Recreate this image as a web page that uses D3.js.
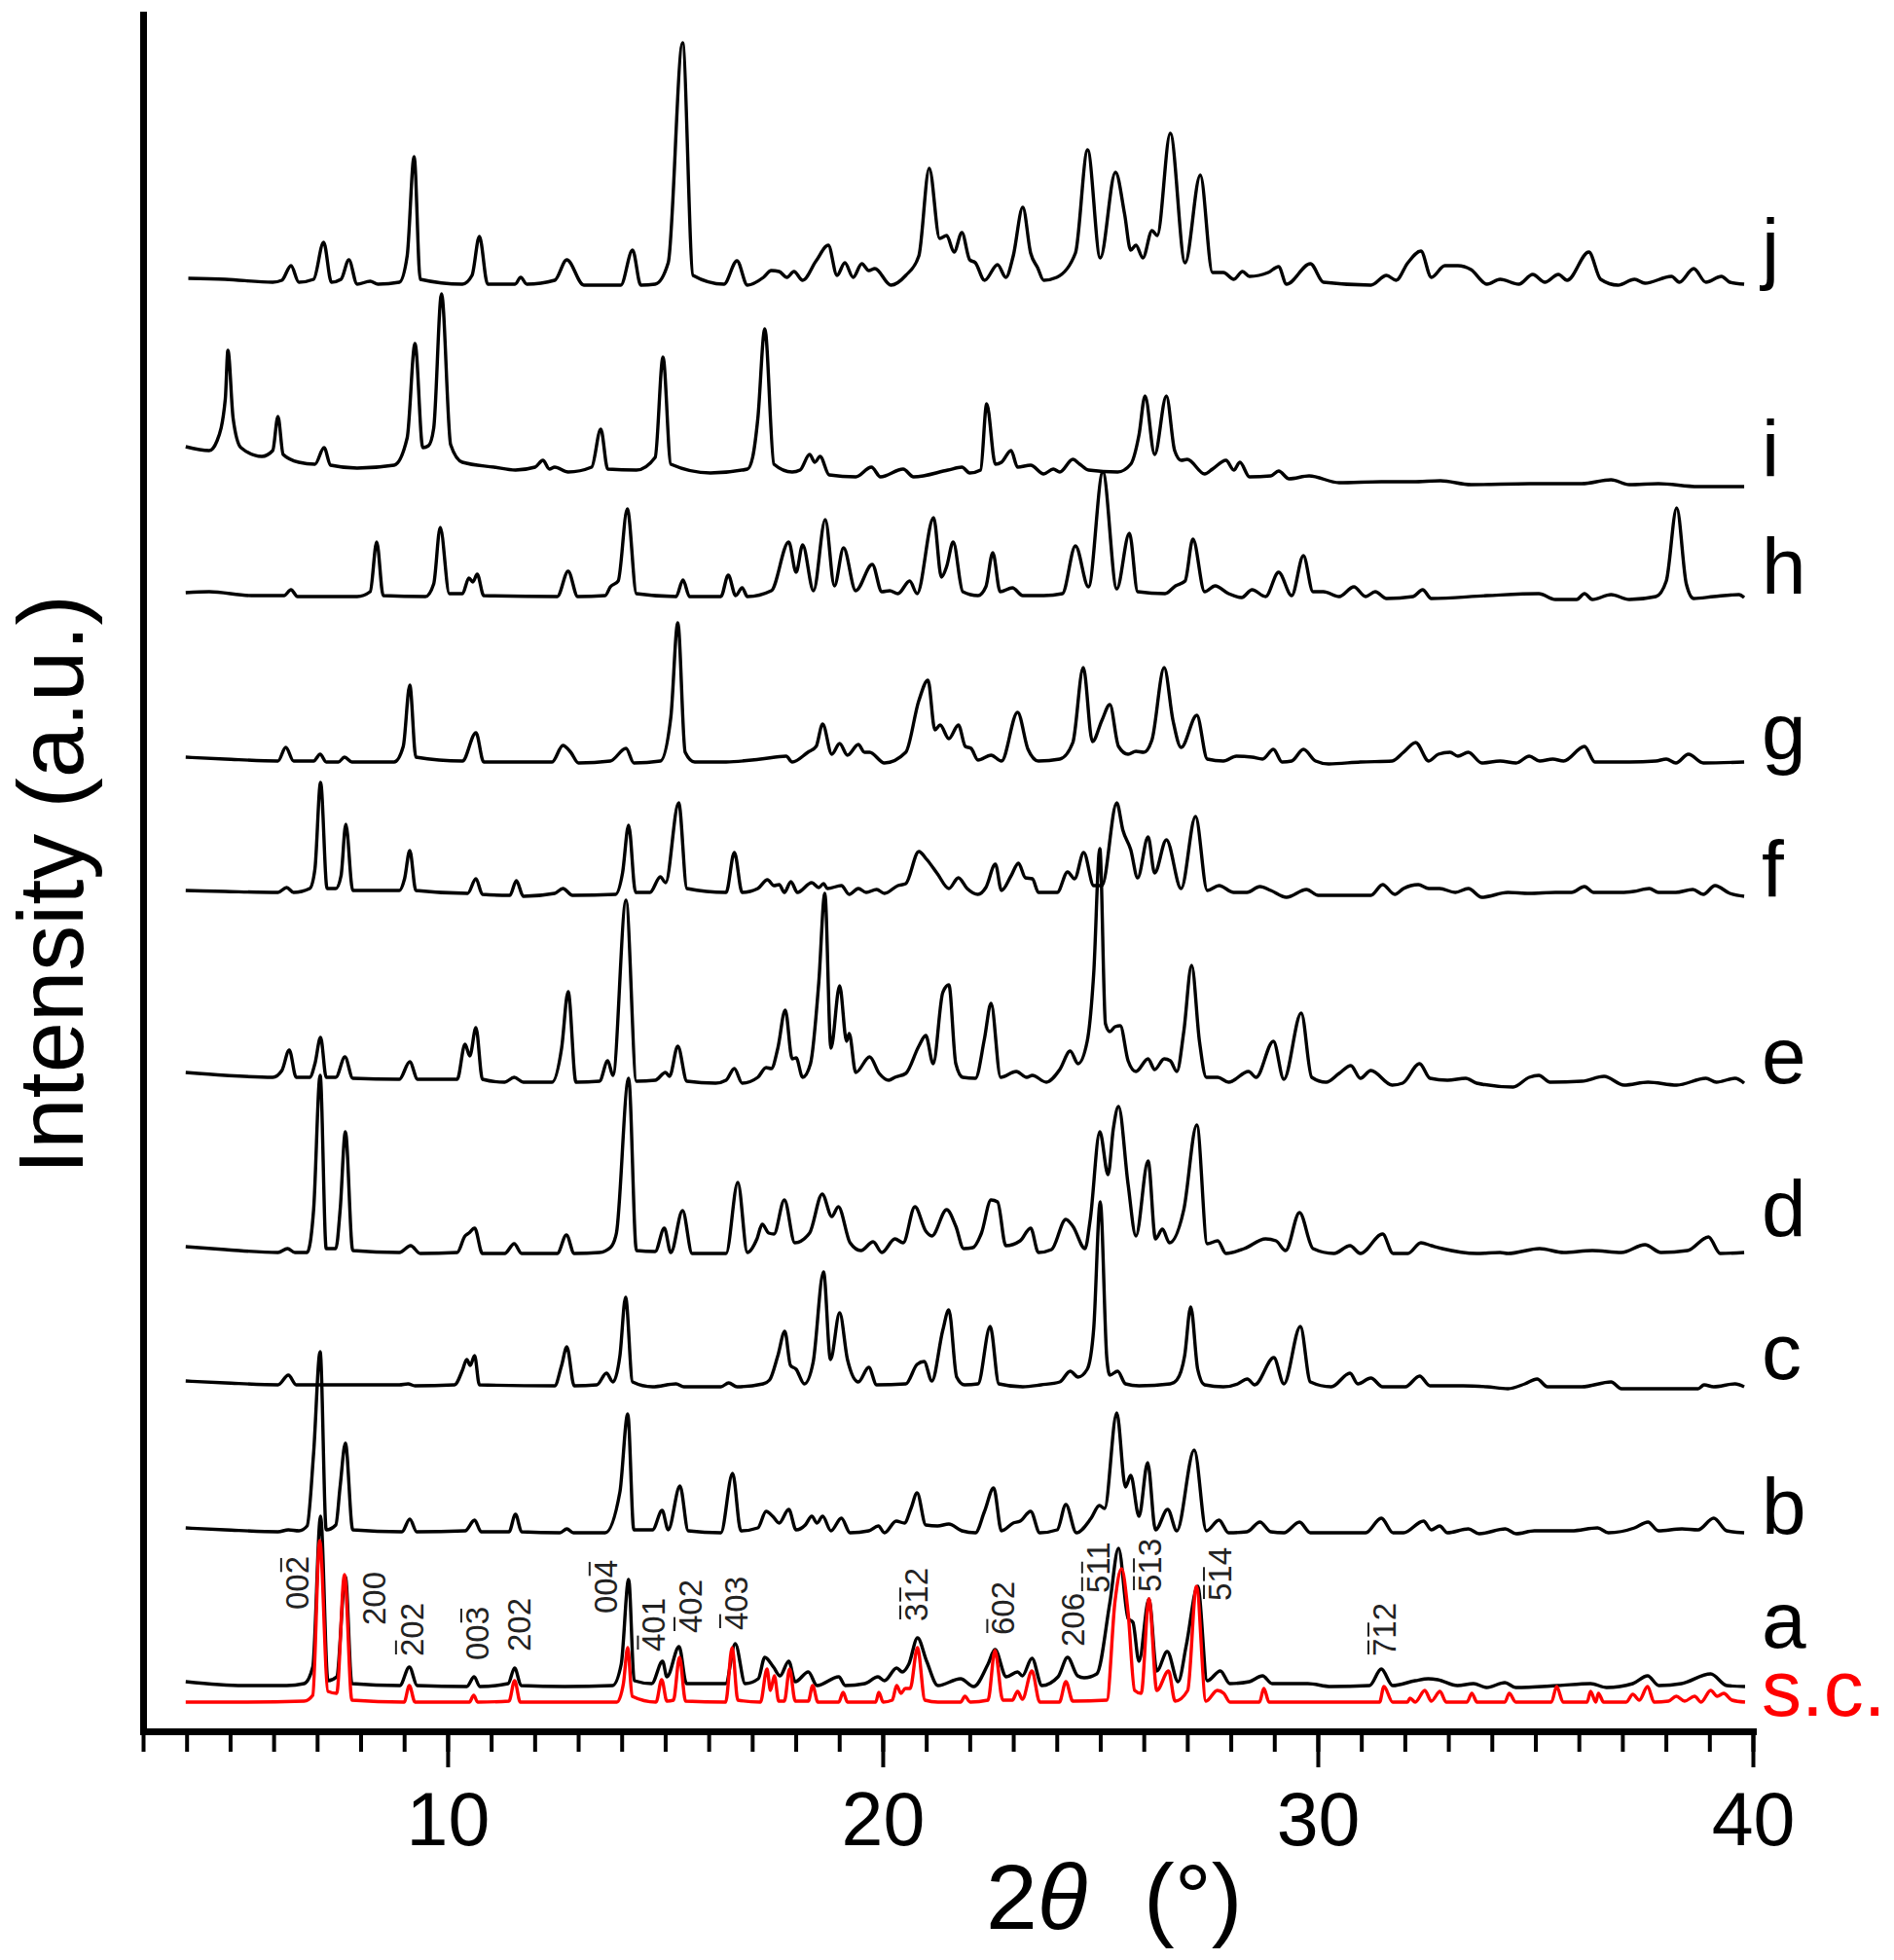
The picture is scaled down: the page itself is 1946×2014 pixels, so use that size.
<!DOCTYPE html>
<html>
<head>
<meta charset="utf-8">
<script src="https://cdn.jsdelivr.net/npm/d3@7"></script>
<style>
  body { margin: 0; background: #fff; }
  svg text { font-family: "Liberation Sans", Arial, sans-serif; }
</style>
</head>
<body>
<svg id="canvas"></svg>
<script>
// Set up SVG dimensions
const width = 1946;
const height = 2014;

// XRD patterns: [2theta, intensity above the pattern's own baseline]
const patternJ = [[4.04,6],[4.89,5],[5.98,2],[6.19,4],[6.40,19],[6.58,2],[6.92,5],[7.15,43],[7.33,2],[7.55,5],[7.73,25],[7.92,0],[8.22,3],[8.40,0],[8.89,2],[9.07,29],[9.23,131],[9.37,5],[10.34,0],[10.56,9],[10.73,49],[10.92,0],[11.55,0],[11.68,7],[11.82,0],[12.46,4],[12.74,25],[13.13,-1],[13.98,-1],[14.25,35],[14.44,-1],[14.77,0],[15.07,22],[15.40,248],[15.64,9],[16.35,0],[16.65,24],[16.89,-1],[17.26,7],[17.44,14],[17.62,13],[17.80,7],[17.96,13],[18.16,4],[18.47,24],[18.75,40],[18.95,9],[19.13,22],[19.32,7],[19.52,21],[19.68,14],[19.82,16],[20.19,-1],[20.53,9],[20.83,29],[21.07,119],[21.31,47],[21.47,50],[21.64,33],[21.82,53],[22.0,25],[22.13,22],[22.34,4],[22.64,20],[22.83,7],[23.0,29],[23.22,79],[23.40,32],[23.56,17],[23.70,4],[24.0,7],[24.43,32],[24.71,138],[25.0,27],[25.35,115],[25.56,72],[25.70,35],[25.82,40],[25.98,27],[26.19,55],[26.31,50],[26.61,155],[26.95,22],[27.30,112],[27.58,12],[27.83,12],[28.07,5],[28.27,13],[28.43,8],[28.86,12],[29.10,18],[29.28,0],[29.83,21],[30.13,2],[31.22,-1],[31.58,9],[31.80,4],[32.07,22],[32.37,34],[32.61,7],[32.92,19],[33.22,19],[33.52,15],[33.89,0],[34.19,5],[34.62,0],[34.94,10],[35.22,2],[35.53,10],[35.73,4],[36.23,33],[36.50,5],[36.90,-1],[37.28,5],[37.52,1],[38.13,8],[38.31,2],[38.64,16],[38.92,2],[39.28,8],[39.47,2],[39.80,0]];

const patternI = [[3.98,41],[4.52,37],[4.70,47],[4.89,90],[4.95,140],[5.07,70],[5.25,40],[5.73,31],[5.98,37],[6.10,72],[6.22,33],[6.58,25],[6.95,23],[7.16,40],[7.31,22],[7.92,19],[8.77,22],[9.07,50],[9.25,147],[9.43,40],[9.56,42],[9.68,60],[9.86,198],[10.07,43],[10.34,25],[11.07,20],[11.56,17],[12.01,20],[12.19,27],[12.34,18],[12.46,20],[12.77,15],[13.31,20],[13.52,59],[13.68,18],[14.34,17],[14.77,30],[14.95,133],[15.13,23],[16.04,14],[16.89,18],[17.01,30],[17.13,70],[17.29,162],[17.50,23],[17.92,15],[18.10,17],[18.32,33],[18.44,25],[18.56,31],[18.77,12],[19.38,10],[19.74,20],[19.95,10],[20.47,18],[20.71,10],[21.50,17],[21.82,20],[22.0,14],[22.25,17],[22.39,85],[22.59,23],[22.73,25],[22.95,37],[23.10,20],[23.40,22],[23.70,13],[23.92,18],[24.07,15],[24.37,28],[24.53,23],[24.73,17],[25.40,15],[25.70,23],[25.89,53],[26.03,93],[26.25,33],[26.52,93],[26.71,37],[26.86,27],[27.0,28],[27.40,13],[27.58,18],[27.89,27],[28.07,17],[28.21,25],[28.43,10],[28.92,11],[29.10,16],[29.34,8],[29.80,11],[30.49,4],[31.46,5],[32.19,5],[32.82,6],[33.52,2],[34.86,3],[36.07,3],[36.74,7],[37.16,2],[37.83,3],[38.74,0],[39.80,0]];

const patternH = [[3.98,4],[4.52,5],[5.49,1],[6.24,1],[6.40,7],[6.55,0],[7.92,0],[8.22,5],[8.37,56],[8.52,1],[9.49,0],[9.68,13],[9.83,71],[10.04,3],[10.34,3],[10.49,19],[10.58,15],[10.68,23],[10.83,1],[12.52,0],[12.77,26],[12.99,0],[13.62,1],[13.74,10],[13.92,16],[14.13,90],[14.34,3],[15.25,0],[15.41,17],[15.56,0],[16.28,0],[16.45,22],[16.62,1],[16.77,9],[16.89,0],[17.44,6],[17.84,56],[18.01,25],[18.16,53],[18.41,6],[18.68,79],[18.89,11],[19.10,50],[19.38,6],[19.76,33],[19.98,5],[20.16,6],[20.35,3],[20.62,16],[20.79,3],[21.17,81],[21.35,20],[21.47,31],[21.62,56],[21.84,5],[22.19,1],[22.37,10],[22.53,45],[22.70,5],[22.98,9],[23.22,1],[23.70,1],[24.13,3],[24.43,52],[24.73,10],[25.06,128],[25.38,8],[25.67,65],[25.86,5],[26.49,3],[26.73,11],[26.95,16],[27.13,59],[27.40,5],[27.64,11],[27.95,3],[28.25,-1],[28.49,7],[28.80,0],[29.10,25],[29.40,1],[29.67,42],[29.89,5],[30.13,5],[30.49,0],[30.83,10],[31.10,0],[31.32,5],[31.58,-2],[32.19,0],[32.41,7],[32.61,-2],[33.89,1],[35.08,3],[35.46,-3],[35.95,-3],[36.13,3],[36.31,-3],[36.74,2],[37.16,-3],[37.77,0],[38.01,16],[38.25,91],[38.47,13],[38.64,-2],[39.10,0],[39.68,2],[39.80,-1]];

const patternG = [[3.98,5],[4.89,3],[6.10,1],[6.28,15],[6.46,1],[6.92,1],[7.07,8],[7.21,0],[7.49,0],[7.63,5],[7.80,0],[8.77,0],[8.98,16],[9.13,79],[9.27,5],[10.34,1],[10.65,30],[10.83,0],[12.40,0],[12.65,17],[12.83,10],[13.01,-1],[13.74,1],[14.10,14],[14.28,-1],[14.89,1],[15.13,46],[15.29,143],[15.46,10],[15.68,0],[16.40,0],[17.19,3],[17.78,6],[17.92,0],[18.28,10],[18.47,16],[18.62,39],[18.83,8],[19.01,19],[19.19,7],[19.44,18],[19.58,10],[19.70,10],[20.04,-1],[20.53,10],[20.83,63],[21.04,84],[21.20,33],[21.32,38],[21.52,24],[21.74,38],[21.90,16],[22.03,14],[22.19,2],[22.49,7],[22.73,1],[23.10,51],[23.34,13],[23.58,1],[24.07,3],[24.37,20],[24.61,97],[24.82,21],[25.04,43],[25.22,59],[25.42,16],[25.64,8],[25.82,11],[26.0,10],[26.19,23],[26.47,97],[26.67,43],[26.86,15],[27.22,48],[27.46,3],[27.83,1],[28.13,6],[28.49,5],[28.73,3],[28.98,13],[29.18,0],[29.40,1],[29.67,13],[29.95,1],[30.25,-2],[30.98,0],[31.71,1],[31.97,10],[32.25,20],[32.55,1],[32.77,8],[33.04,10],[33.22,6],[33.46,10],[33.77,-1],[34.19,1],[34.56,-1],[34.86,6],[35.10,1],[35.40,3],[35.65,1],[36.13,16],[36.37,0],[37.16,0],[37.77,1],[38.01,3],[38.23,-1],[38.52,8],[38.86,-1],[39.80,0]];

const patternF = [[3.98,4],[4.89,3],[6.10,2],[6.30,7],[6.46,2],[6.83,6],[6.95,26],[7.08,115],[7.23,6],[7.43,6],[7.55,19],[7.66,72],[7.82,4],[8.89,4],[9.01,16],[9.13,45],[9.27,4],[10.46,1],[10.65,16],[10.80,0],[11.43,-1],[11.58,14],[11.74,-2],[12.46,1],[12.65,6],[12.87,-1],[13.86,0],[14.02,22],[14.16,71],[14.32,2],[14.65,2],[14.89,18],[15.01,12],[15.31,94],[15.50,6],[16.40,2],[16.59,43],[16.77,2],[17.13,6],[17.35,15],[17.50,9],[17.62,10],[17.74,2],[17.89,13],[18.04,2],[18.37,12],[18.53,7],[18.64,11],[18.73,6],[19.05,9],[19.23,0],[19.44,6],[19.62,2],[19.86,5],[20.04,1],[20.35,9],[20.53,11],[20.83,44],[21.01,36],[21.26,21],[21.52,6],[21.74,17],[21.94,6],[22.19,0],[22.37,7],[22.59,31],[22.73,4],[22.95,19],[23.12,32],[23.28,17],[23.44,16],[23.58,2],[24.01,2],[24.25,23],[24.41,16],[24.62,43],[24.85,9],[25.04,9],[25.38,94],[25.52,66],[25.70,46],[25.86,17],[26.10,59],[26.25,22],[26.52,56],[26.86,6],[27.19,80],[27.46,4],[27.73,9],[28.07,2],[28.37,2],[28.67,8],[28.92,4],[29.28,-3],[29.74,5],[30.01,-1],[31.22,-1],[31.49,10],[31.77,0],[31.97,6],[32.31,10],[32.55,6],[32.80,6],[33.16,2],[33.46,6],[33.77,-3],[34.37,2],[34.86,1],[35.46,2],[35.83,2],[36.13,8],[36.34,2],[36.98,2],[37.26,3],[37.62,6],[37.83,2],[38.23,2],[38.62,5],[38.86,0],[39.13,9],[39.47,1],[39.80,-2]];

const patternE = [[3.98,10],[4.89,7],[5.98,5],[6.19,12],[6.36,33],[6.52,5],[6.83,5],[6.95,19],[7.08,46],[7.21,5],[7.43,5],[7.64,26],[7.82,4],[8.89,3],[9.13,21],[9.31,3],[10.22,3],[10.40,39],[10.51,27],[10.65,56],[10.80,3],[11.31,0],[11.53,5],[11.74,0],[12.40,0],[12.62,35],[12.77,93],[12.95,0],[13.49,1],[13.68,22],[13.80,7],[14.10,187],[14.34,1],[14.77,2],[15.01,10],[15.10,6],[15.29,37],[15.50,1],[16.16,-1],[16.40,2],[16.59,14],[16.77,-1],[17.13,5],[17.32,15],[17.44,14],[17.59,35],[17.76,74],[17.92,24],[18.01,25],[18.16,5],[18.34,19],[18.53,102],[18.67,194],[18.81,35],[19.01,99],[19.17,42],[19.23,50],[19.38,10],[19.70,26],[19.92,9],[20.14,2],[20.28,5],[20.53,9],[20.83,37],[20.99,48],[21.16,19],[21.38,92],[21.52,100],[21.68,19],[21.84,5],[22.13,4],[22.34,45],[22.49,81],[22.71,5],[23.07,11],[23.31,5],[23.44,7],[23.76,0],[24.07,13],[24.31,32],[24.49,19],[24.70,42],[24.85,112],[24.99,240],[25.12,60],[25.22,52],[25.34,57],[25.46,58],[25.64,22],[25.82,11],[26.10,24],[26.25,13],[26.47,24],[26.61,22],[26.76,11],[26.92,52],[27.10,120],[27.28,42],[27.44,5],[27.70,5],[27.95,0],[28.41,11],[28.58,5],[28.98,42],[29.22,3],[29.62,71],[29.86,5],[30.19,0],[30.49,9],[30.76,17],[30.98,4],[31.22,12],[31.71,-3],[31.95,-1],[32.34,19],[32.58,4],[32.98,2],[33.40,4],[33.65,-1],[34.49,-5],[34.86,5],[35.08,7],[35.34,0],[36.07,1],[36.58,6],[37.04,-3],[37.59,0],[38.25,-3],[38.92,4],[39.16,0],[39.59,4],[39.80,-1]];

const patternD = [[3.98,6],[4.89,3],[6.10,0],[6.32,4],[6.49,0],[6.77,0],[6.92,44],[7.07,182],[7.21,4],[7.43,4],[7.53,44],[7.65,124],[7.82,2],[8.89,0],[9.15,7],[9.37,-1],[10.22,0],[10.40,17],[10.49,20],[10.62,25],[10.80,-1],[11.31,-1],[11.53,9],[11.70,-1],[12.52,-1],[12.73,18],[12.91,-1],[13.49,0],[13.74,5],[13.88,20],[14.16,179],[14.34,2],[14.77,1],[14.98,25],[15.13,0],[15.40,43],[15.62,-1],[16.40,-1],[16.67,72],[16.89,0],[17.11,14],[17.23,29],[17.38,20],[17.50,19],[17.74,54],[17.98,10],[18.32,20],[18.61,60],[18.83,37],[18.98,47],[19.25,10],[19.50,2],[19.78,11],[19.98,0],[20.28,14],[20.47,10],[20.74,47],[20.99,22],[21.13,17],[21.47,44],[21.68,27],[21.86,4],[22.07,5],[22.27,20],[22.49,54],[22.64,52],[22.83,7],[23.16,12],[23.40,25],[23.58,0],[23.88,3],[24.21,34],[24.37,27],[24.65,4],[24.77,34],[24.99,124],[25.18,80],[25.30,127],[25.42,150],[25.64,70],[25.82,17],[26.10,94],[26.27,14],[26.43,24],[26.59,10],[26.92,44],[27.22,131],[27.46,9],[27.70,12],[27.89,-1],[28.31,4],[28.80,14],[29.04,12],[29.26,2],[29.58,41],[29.89,4],[30.37,-1],[30.74,7],[30.98,-1],[31.49,19],[31.73,-1],[32.07,-1],[32.37,10],[32.61,7],[32.86,4],[33.65,-1],[34.19,0],[34.37,-1],[35.10,4],[35.65,0],[36.31,2],[36.98,0],[37.52,8],[37.89,0],[38.50,2],[38.98,16],[39.25,-1],[39.80,0]];

const patternC = [[3.98,6],[4.89,4],[6.10,2],[6.34,12],[6.52,2],[8.89,2],[9.09,3],[9.25,1],[10.16,2],[10.34,17],[10.44,28],[10.52,22],[10.62,32],[10.73,2],[12.46,1],[12.62,22],[12.74,41],[12.91,1],[13.43,2],[13.65,14],[13.80,5],[13.96,32],[14.09,92],[14.25,5],[14.71,0],[15.25,3],[15.43,0],[16.28,0],[16.46,4],[16.65,0],[17.25,3],[17.40,7],[17.59,32],[17.75,57],[17.88,22],[18.01,18],[18.20,3],[18.40,25],[18.64,118],[18.80,28],[19.01,76],[19.19,28],[19.44,5],[19.68,20],[19.86,2],[20.53,3],[20.79,23],[20.95,26],[21.13,6],[21.38,58],[21.52,79],[21.70,10],[21.88,2],[22.19,3],[22.47,62],[22.67,3],[23.22,0],[23.64,2],[24.07,5],[24.31,16],[24.49,10],[24.70,18],[24.85,60],[25.0,190],[25.15,30],[25.22,12],[25.40,16],[25.58,3],[25.89,1],[26.61,3],[26.76,7],[26.94,32],[27.08,82],[27.24,18],[27.40,2],[27.83,0],[28.16,3],[28.38,8],[28.55,2],[28.99,30],[29.22,3],[29.60,62],[29.83,5],[30.31,0],[30.74,14],[30.92,3],[31.22,9],[31.49,0],[32.01,0],[32.34,11],[32.58,1],[33.34,1],[33.89,0],[34.37,-2],[34.76,3],[35.04,8],[35.28,0],[36.07,0],[36.74,5],[36.98,-2],[38.74,-2],[38.88,2],[39.10,0],[39.59,3],[39.80,0]];

const patternB = [[3.98,5],[4.89,3],[6.10,1],[6.34,3],[6.58,2],[6.77,7],[6.92,82],[7.07,186],[7.21,3],[7.43,8],[7.53,48],[7.65,92],[7.82,3],[8.95,1],[9.13,14],[9.29,1],[10.40,2],[10.62,13],[10.77,1],[11.41,1],[11.56,19],[11.70,1],[12.58,0],[12.74,4],[12.89,0],[13.62,0],[13.96,42],[14.14,122],[14.28,3],[14.71,3],[14.93,23],[15.07,3],[15.34,48],[15.53,2],[16.28,0],[16.55,61],[16.74,2],[17.13,5],[17.32,22],[17.47,17],[17.62,10],[17.84,24],[18.01,3],[18.22,8],[18.37,17],[18.49,10],[18.62,17],[18.81,2],[19.05,15],[19.25,0],[19.68,2],[19.90,7],[20.04,0],[20.31,12],[20.50,10],[20.65,25],[20.79,41],[20.99,8],[21.26,7],[21.52,9],[21.82,2],[22.13,0],[22.34,22],[22.55,46],[22.73,2],[23.0,10],[23.16,12],[23.40,22],[23.61,0],[24.01,3],[24.21,29],[24.45,0],[24.79,15],[24.98,28],[25.10,25],[25.38,123],[25.58,47],[25.70,59],[25.89,17],[26.09,72],[26.27,3],[26.55,24],[26.76,2],[27.16,85],[27.44,2],[27.73,13],[27.95,0],[28.37,1],[28.67,11],[28.92,1],[29.22,0],[29.58,11],[29.83,0],[31.10,0],[31.46,15],[31.73,0],[31.97,0],[32.43,12],[32.61,3],[32.80,7],[32.98,0],[33.46,4],[33.71,-1],[34.31,4],[34.56,-1],[34.98,2],[35.83,2],[36.43,5],[36.68,0],[37.28,5],[37.59,11],[37.83,2],[38.37,4],[38.74,3],[39.10,15],[39.40,2],[39.80,0]];

const patternA = [[3.98,5],[5.30,1],[6.30,1],[6.70,3],[6.90,20],[7.08,175],[7.25,6],[7.45,10],[7.65,113],[7.80,3],[8.90,1],[9.12,20],[9.30,1],[10.44,0],[10.61,10],[10.74,0],[11.39,3],[11.54,19],[11.69,1],[12.69,0],[13.79,1],[13.99,23],[14.16,110],[14.29,6],[14.69,3],[14.94,26],[15.04,10],[15.32,41],[15.49,3],[16.39,3],[16.61,44],[16.84,3],[17.14,8],[17.29,30],[17.49,20],[17.64,11],[17.84,26],[17.99,5],[18.29,15],[18.49,1],[18.99,10],[19.14,1],[19.59,3],[19.89,10],[20.04,6],[20.32,19],[20.45,15],[20.60,23],[20.80,50],[21.01,26],[21.27,1],[21.79,8],[22.09,0],[22.42,23],[22.58,38],[22.84,10],[23.10,15],[23.21,11],[23.43,29],[23.66,1],[24.03,10],[24.25,30],[24.48,11],[24.63,9],[24.92,13],[25.22,86],[25.42,142],[25.64,70],[25.75,66],[25.89,26],[26.12,90],[26.30,16],[26.54,36],[26.79,5],[26.98,43],[27.24,103],[27.46,6],[27.76,16],[27.98,3],[28.43,5],[28.73,11],[28.95,3],[29.77,3],[30.30,0],[31.19,1],[31.46,18],[31.72,1],[32.24,6],[32.54,8],[32.76,7],[33.21,1],[33.58,3],[33.88,-1],[34.30,4],[34.55,-1],[35.52,1],[36.27,3],[36.64,-1],[37.24,3],[37.58,11],[37.84,1],[38.36,3],[39.03,13],[39.40,1],[39.82,0]];

// single crystal (simulated) pattern
const patternSC = [[3.98,0],[5.30,0],[6.70,1],[6.90,7],[7.06,166],[7.25,11],[7.45,9],[7.63,131],[7.80,2],[9.00,0],[9.12,17],[9.25,0],[10.50,0],[10.60,7],[10.69,0],[11.41,1],[11.54,22],[11.67,0],[13.89,0],[14.04,19],[14.14,56],[14.24,6],[14.79,0],[14.92,23],[15.04,1],[15.19,2],[15.33,46],[15.47,1],[16.39,0],[16.54,56],[16.67,2],[17.19,0],[17.34,34],[17.42,12],[17.51,27],[17.61,1],[17.74,1],[17.86,34],[17.99,1],[18.29,1],[18.39,17],[18.51,0],[18.99,0],[19.09,10],[19.19,0],[19.84,0],[19.91,10],[20.01,0],[20.22,2],[20.32,17],[20.42,9],[20.52,14],[20.63,14],[20.80,56],[20.97,2],[21.27,0],[21.79,0],[21.89,6],[22.01,0],[22.42,2],[22.58,53],[22.76,2],[22.98,2],[23.10,11],[23.21,3],[23.43,32],[23.61,0],[24.06,0],[24.21,21],[24.37,1],[25.15,2],[25.34,104],[25.49,137],[25.64,92],[25.79,12],[25.94,9],[26.12,106],[26.30,12],[26.57,32],[26.72,1],[27.01,12],[27.21,119],[27.43,1],[27.69,12],[27.84,9],[27.98,0],[28.66,0],[28.76,14],[28.88,0],[30.30,0],[31.42,0],[31.52,16],[31.72,0],[32.06,0],[32.12,4],[32.24,0],[32.46,12],[32.61,1],[32.81,11],[32.95,0],[33.43,0],[33.54,9],[33.66,0],[34.30,0],[34.40,9],[34.55,0],[35.37,0],[35.49,16],[35.64,0],[36.19,0],[36.27,11],[36.39,0],[36.45,9],[36.57,0],[37.09,0],[37.24,8],[37.39,2],[37.58,16],[37.73,0],[38.06,1],[38.24,6],[38.43,1],[38.66,6],[38.81,0],[39.03,12],[39.18,6],[39.33,9],[39.52,2],[39.82,0]];

// stacking: names, vertical offsets and label levels (a.u.)
const seriesNames   = ["j", "i", "h", "g", "f", "e", "d", "c", "b", "a", "s.c."];
const seriesData    = [patternJ, patternI, patternH, patternG, patternF, patternE, patternD, patternC, patternB, patternA, patternSC];
const seriesOffsets = [1487, 1279, 1166, 996, 860, 667, 492, 354, 204, 46, 30];
const labelLevels   = [1497, 1290, 1169, 999, 858, 666, 509, 362, 203, 86, 16];

// Miller index labels on pattern a: digits, which digits carry a bar, 2theta, level
const hklText  = ["002", "200", "202", "003", "202", "004", "401", "402", "403", "312", "602", "206", "511", "513", "514", "712"];
const hklBars  = [[2], [], [0], [2], [], [2], [0], [0], [0], [0,1], [0], [], [0,1], [0,1], [0,1], [0,1]];
const hklTheta = [6.80, 8.57, 9.44, 10.94, 11.90, 13.89, 15.00, 15.84, 16.89, 21.03, 23.03, 24.63, 25.21, 26.40, 28.01, 31.79];
const hklLevel = [125, 109, 77, 73, 82, 121, 82, 101, 104, 113, 99, 87, 142, 143, 134, 77];

const xTicksMajor = [10, 20, 30, 40];

const svg = d3.select("#canvas")
    .attr("width", width)
    .attr("height", height);

const x = d3.scaleLinear().domain([3, 40]).range([147, 1801]);
const y = d3.scaleLinear().domain([0, 1764]).range([1779, 15]);

// Draw patterns (black first, simulated red on top)
seriesData.forEach((pts, i) => {
    const off = seriesOffsets[i];
    const line = d3.line()
        .x(d => x(d[0]))
        .y(d => y(d[1] + off))
        .curve(d3.curveMonotoneX);
    svg.append("path")
        .datum(pts)
        .attr("d", line)
        .attr("fill", "none")
        .attr("stroke", seriesNames[i] === "s.c." ? "#ff0000" : "#000")
        .attr("stroke-width", 3.4)
        .attr("stroke-linejoin", "round");
});

// Series labels
svg.selectAll(".slabel")
    .data(seriesNames)
    .enter()
    .append("text")
    .attr("class", "slabel")
    .attr("x", 1810)
    .attr("y", (d, i) => y(labelLevels[i]))
    .attr("font-size", 82)
    .attr("fill", d => d === "s.c." ? "#ff0000" : "#000")
    .text(d => d);

// hkl labels, rotated, with bars drawn over the negative indices
hklText.forEach((t, i) => {
    const g = svg.append("g")
        .attr("transform", `translate(${x(hklTheta[i])},${y(hklLevel[i])}) rotate(-90)`);
    const txt = g.append("text")
        .attr("font-size", 33)
        .attr("fill", "#222")
        .text(t);
    hklBars[i].forEach(k => {
        const e = txt.node().getExtentOfChar(k);
        g.append("line")
            .attr("x1", e.x + 2)
            .attr("x2", e.x + e.width - 2)
            .attr("y1", -28)
            .attr("y2", -28)
            .attr("stroke", "#222")
            .attr("stroke-width", 2);
    });
});

// X axis: minor and major ticks
const minorAxis = d3.axisBottom(x)
    .tickValues(d3.range(3, 41))
    .tickSize(21)
    .tickSizeOuter(0)
    .tickFormat("");
const gMinor = svg.append("g")
    .attr("transform", `translate(0,${y(0)})`)
    .call(minorAxis);
gMinor.select(".domain").remove();
gMinor.selectAll(".tick line").attr("stroke-width", 4);

const majorAxis = d3.axisBottom(x)
    .tickValues(xTicksMajor)
    .tickSize(37)
    .tickSizeOuter(0)
    .tickPadding(25);
const gMajor = svg.append("g")
    .attr("transform", `translate(0,${y(0)})`)
    .call(majorAxis);
gMajor.select(".domain")
    .attr("stroke-width", 7)
    .attr("stroke-linecap", "square");
gMajor.selectAll(".tick line").attr("stroke-width", 4);
gMajor.selectAll(".tick text")
    .attr("font-size", 77)
    .attr("font-family", "Liberation Sans, Arial, sans-serif")
    .attr("fill", "#000");

// Y axis: plain line, no ticks
const yAxis = d3.axisLeft(y).tickValues([]).tickSizeOuter(0);
const gY = svg.append("g")
    .attr("transform", `translate(${x(3)},0)`)
    .call(yAxis);
gY.select(".domain")
    .attr("stroke-width", 7)
    .attr("stroke-linecap", "square");

// Axis titles
const xt = svg.append("text")
    .attr("x", 1013)
    .attr("y", 1982)
    .attr("font-size", 95);
xt.append("tspan").text("2");
xt.append("tspan").attr("font-style", "italic").text("θ");
xt.append("tspan").attr("x", 1175).text("(°)");

svg.append("text")
    .attr("transform", `translate(85,${y(870)}) rotate(-90)`)
    .attr("text-anchor", "middle")
    .attr("font-size", 94)
    .text("Intensity (a.u.)");
</script>
</body>
</html>
